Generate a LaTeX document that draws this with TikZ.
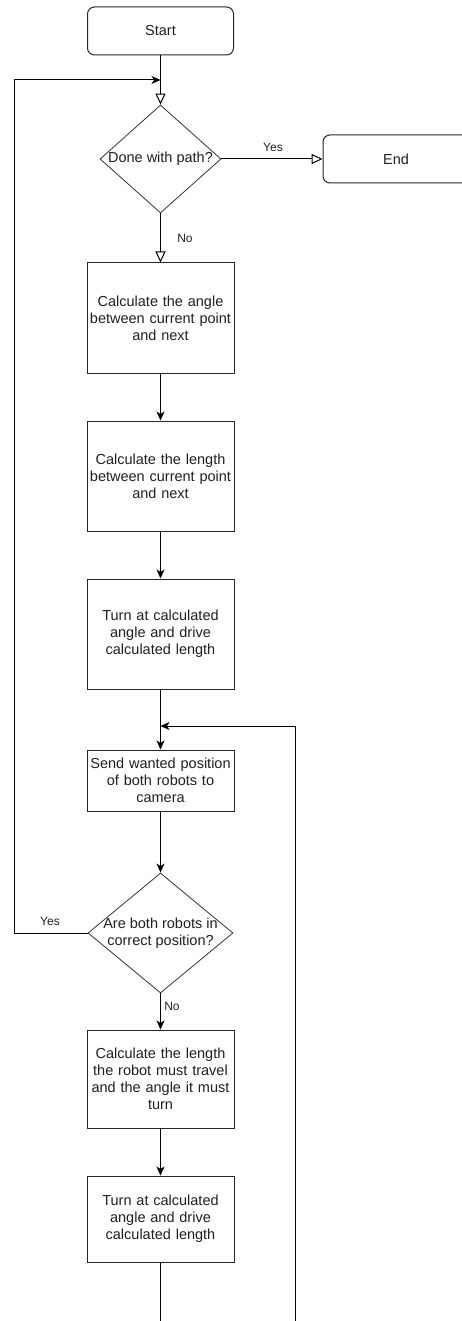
\documentclass[tikz,border=0pt]{standalone}
\usepackage{fontspec}
\setmainfont{Liberation Sans}
\usetikzlibrary{shapes.geometric, arrows.meta}
\begin{document}
\begin{tikzpicture}[x=1pt,y=1pt,
  every node/.style={font=\fontsize{14.5}{17}\selectfont, text=black!88},
  proc/.style={draw=black!85, rectangle, minimum width=147pt, text width=147pt, align=center, inner sep=0pt, line width=1pt},
  term/.style={draw=black!85, rectangle, rounded corners=7pt, minimum width=146pt, minimum height=48pt, inner sep=0pt, line width=1pt},
  dec/.style={draw=black!80, diamond, inner sep=0pt, line width=0.8pt},
  lbl/.style={font=\fontsize{12}{14}\selectfont, inner sep=0pt},
  flow/.style={line width=1pt, -{Stealth[length=9pt,width=8pt,inset=2.5pt]}},
  oflow/.style={line width=1pt, -{Triangle[open,length=11pt,width=10pt]}},
  ln/.style={line width=1pt}
]
\useasboundingbox (0,0) rectangle (462,-1321);

% nodes
\node[term] (start) at (160.5,-31) {Start};
\node[dec, minimum width=121pt, minimum height=108pt,
  label={[align=center]center:Done with path?}] (d1) at (160.5,-159) {};
\node[term] (end) at (396,-159) {End};
\node[proc, minimum height=110pt] (b1) at (160.5,-318) {Calculate the angle\\between current point\\and next};
\node[proc, minimum height=110pt] (b2) at (160.5,-476) {Calculate the length\\between current point\\and next};
\node[proc, minimum height=110pt] (b3) at (160.5,-634) {Turn at calculated\\angle and drive\\calculated length};
\node[proc, minimum height=61pt] (b4) at (160.5,-780.5) {Send wanted position\\of both robots to\\camera};
\node[dec, minimum width=145pt, minimum height=120pt,
  label={[align=center]center:Are both robots in\\correct position?}] (d2) at (160.5,-933) {};
\node[proc, minimum height=98pt] (b5) at (160.5,-1079) {Calculate the length\\the robot must travel\\and the angle it must\\turn};
\node[proc, minimum height=86pt] (b6) at (160.5,-1219) {Turn at calculated\\angle and drive\\calculated length};

% helper coordinates
\coordinate (j1) at (160.5,-80);
\coordinate (lc) at (14,-80);
\coordinate (j2) at (160.5,-726);
\coordinate (rt) at (295,-726);
\coordinate (rb) at (295,-1321);
\coordinate (bb) at (160.5,-1321);

% connectors
\draw[oflow] (start) -- (d1);
\draw[oflow] (d1) -- (end);
\draw[oflow] (d1) -- (b1);
\draw[flow] (b1) -- (b2);
\draw[flow] (b2) -- (b3);
\draw[flow] (b3) -- (b4);
\draw[flow] (b4) -- (d2);
\draw[flow] (d2) -- (b5);
\draw[flow] (b5) -- (b6);
\draw[ln] (b6) -- (bb);
\draw[flow] (d2.west) -| (lc) -- (j1);
\draw[flow] (rb) -- (rt) -- (j2);

% labels
\node[lbl] (yes1) at (273,-147) {Yes};
\node[lbl] (no1) at (185,-238) {No};
\node[lbl] (yes2) at (50,-921) {Yes};
\node[lbl] (no2) at (172,-1006) {No};
\end{tikzpicture}
\end{document}
